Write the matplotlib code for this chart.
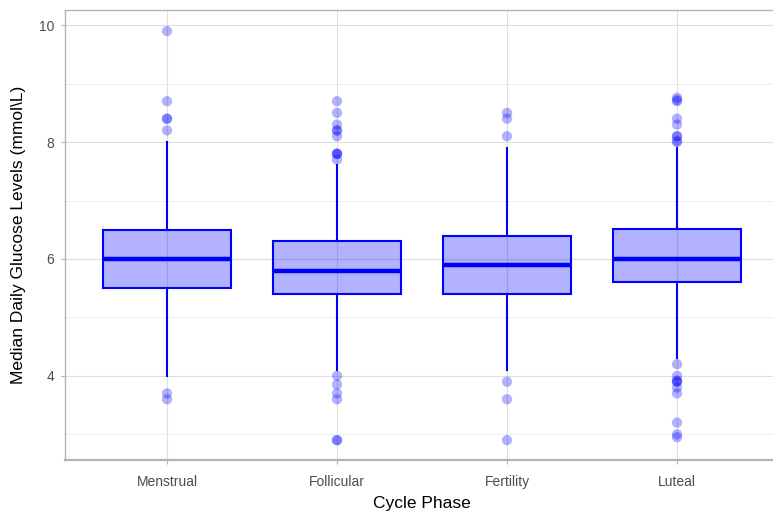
import numpy as np
import matplotlib.pyplot as plt

plt.rcParams['font.family'] = ['Liberation Sans', 'DejaVu Sans']

# box statistics per cycle phase
phases = ["Menstrual", "Follicular", "Fertility", "Luteal"]
q1 = [5.5, 5.4, 5.4, 5.6]
med = [6.0, 5.8, 5.9, 6.0]
q3 = [6.5, 6.3, 6.4, 6.52]
whis_lo = [4.0, 4.1, 4.1, 4.3]
whis_hi = [8.0, 7.6, 7.9, 7.9]

# outliers
out_menstrual = [9.9, 8.7, 8.4, 8.4, 8.2, 3.7, 3.6]
out_follicular = [8.7, 8.5, 8.3, 8.2, 8.2, 8.1, 7.8, 7.8, 7.8, 7.7,
                  4.0, 3.85, 3.7, 3.6, 2.9, 2.9]
out_fertility = [8.5, 8.4, 8.1, 3.9, 3.6, 2.9]
out_luteal = [8.76, 8.72, 8.7, 8.4, 8.3, 8.1, 8.1, 8.02, 8.0,
              4.2, 4.0, 3.9, 3.9, 3.92, 3.8, 3.7, 3.2, 3.0, 2.95]
outliers = [out_menstrual, out_follicular, out_fertility, out_luteal]

stats = []
for i in range(len(phases)):
    stats.append(dict(label=phases[i], q1=q1[i], med=med[i], q3=q3[i],
                      whislo=whis_lo[i], whishi=whis_hi[i], fliers=[]))

fig = plt.figure(figsize=(7.73, 5.14), dpi=100)
ax = fig.add_axes([0.0841, 0.105, 0.9237, 0.8755])

pos = np.arange(1, len(phases) + 1)
ax.bxp(stats, positions=pos, widths=0.75, patch_artist=True, showcaps=False,
       showfliers=False,
       boxprops=dict(facecolor=(0, 0, 1, 0.3), edgecolor="blue", linewidth=1.5),
       whiskerprops=dict(color="blue", linewidth=1.5),
       medianprops=dict(color="blue", linewidth=3.2, solid_capstyle="butt"))

for i, pts in enumerate(outliers):
    ax.scatter(np.full(len(pts), pos[i]), pts, s=55, color="blue", alpha=0.3,
               edgecolor="none", zorder=3)

ax.set_xlim(0.4, 4.6)
ax.set_ylim(2.56, 10.26)
ax.set_yticks([4, 6, 8, 10])
ax.set_yticks([3, 5, 7, 9], minor=True)
ax.set_xticks(pos)
ax.set_xticklabels(phases)

ax.grid(True, which="major", color="#DEDEDE", linewidth=0.8)
ax.grid(True, which="minor", axis="y", color="#EBEBEB", linewidth=0.6)
ax.set_axisbelow(True)

for s in ["left", "bottom", "top"]:
    ax.spines[s].set_color("#B3B3B3")
    ax.spines[s].set_linewidth(1.0)
ax.spines["bottom"].set_linewidth(1.6)
ax.spines["right"].set_visible(False)

ax.tick_params(axis="both", which="major", colors="#B3B3B3", length=3,
               labelcolor="#4D4D4D", labelsize=10)
ax.tick_params(axis="x", which="major", pad=8)
ax.tick_params(axis="y", which="major", pad=5)
ax.tick_params(axis="y", which="minor", length=0)

ax.set_xlabel("Cycle Phase", fontsize=12.5, color="black", labelpad=5)
ax.set_ylabel("Median Daily Glucose Levels (mmol\\L)", fontsize=12.5,
              color="black", labelpad=9)

fig.savefig("out.png", dpi=100)
